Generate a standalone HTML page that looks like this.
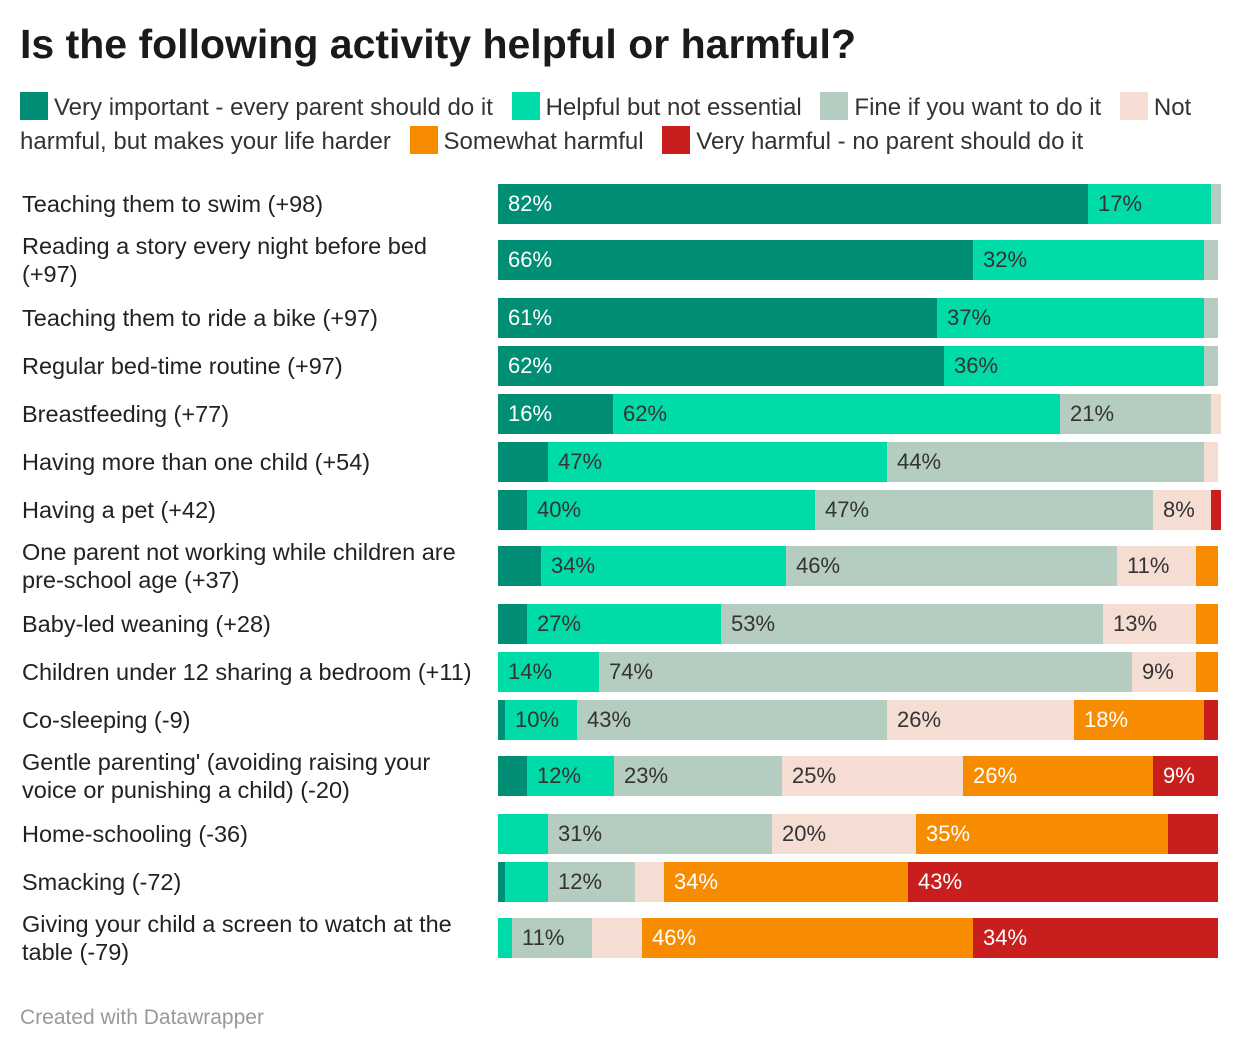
<!DOCTYPE html>
<html><head><meta charset="utf-8"><style>
body{margin:0;width:1240px;height:1054px;background:#fff;font-family:"Liberation Sans",sans-serif;position:relative;overflow:hidden;color:#222}
#title{position:absolute;left:20px;top:21px;font-size:41px;font-weight:bold;color:#1a1a1a;letter-spacing:0px}
#legend{position:absolute;left:20px;top:91px;width:1210px;font-size:24px;line-height:34px;color:#333}
.sw{display:inline-block;width:28px;height:28px;vertical-align:-5px;margin-right:6px}
.li{margin-right:12px}
.lab{position:absolute;left:22px;width:465px;font-size:23.5px;line-height:28px;color:#222}
.seg{position:absolute;height:40px;font-size:22px;line-height:40px;box-sizing:border-box;padding-left:10px;white-space:nowrap;overflow:hidden}
#foot{position:absolute;left:20px;top:1006px;font-size:21px;color:#999}
</style></head><body>
<div id="title">Is the following activity helpful or harmful?</div>
<div id="legend">
<span class="li"><span class="sw" style="background:#008f74"></span>Very important - every parent should do it</span>
<span class="li"><span class="sw" style="background:#00dca8"></span>Helpful but not essential</span>
<span class="li"><span class="sw" style="background:#b5cdc0"></span>Fine if you want to do it</span>
<span class="li"><span class="sw" style="background:#f5ddd4"></span>Not harmful, but makes your life harder</span>
<span class="li"><span class="sw" style="background:#f78c00"></span>Somewhat harmful</span>
<span class="li"><span class="sw" style="background:#c81e1e"></span>Very harmful - no parent should do it</span>
</div>
<div id="chart"></div>
<div id="foot">Created with Datawrapper</div>
<script>
const categories=["Teaching them to swim (+98)","Reading a story every night before bed (+97)","Teaching them to ride a bike (+97)","Regular bed-time routine (+97)","Breastfeeding (+77)","Having more than one child (+54)","Having a pet (+42)","One parent not working while children are pre-school age (+37)","Baby-led weaning (+28)","Children under 12 sharing a bedroom (+11)","Co-sleeping (-9)","Gentle parenting' (avoiding raising your voice or punishing a child) (-20)","Home-schooling (-36)","Smacking (-72)","Giving your child a screen to watch at the table (-79)"];
const veryImportant=[82,66,61,62,16,7,4,6,4,0,1,4,0,1,0];
const helpful=[17,32,37,36,62,47,40,34,27,14,10,12,7,6,2];
const fine=[1,2,2,2,21,44,47,46,53,74,43,23,31,12,11];
const lifeHarder=[0,0,0,0,1,2,8,11,13,9,26,25,20,4,7];
const somewhatHarmful=[0,0,0,0,0,0,0,3,3,3,18,26,35,34,46];
const veryHarmful=[0,0,0,0,0,0,1,0,0,0,2,9,7,43,34];
const twoLine=[false,true,false,false,false,false,false,true,false,false,false,true,false,false,true];
const series=[veryImportant,helpful,fine,lifeHarder,somewhatHarmful,veryHarmful];
const colors=["#008f74","#00dca8","#b5cdc0","#f5ddd4","#f78c00","#c81e1e"];
const textColors=["#fff","#333","#333","#333","#fff","#fff"];
const X0=498,W=720;
const chart=document.getElementById('chart');
let barTop=184;
categories.forEach((c,i)=>{
  if(i>0) barTop+=48+(twoLine[i]?8:0)+(twoLine[i-1]?10:0);
  const lab=document.createElement('div');
  lab.className='lab';
  
  
  lab.textContent=c;
  lab.style.top=(twoLine[i]?barTop-8:barTop+6)+'px';
  chart.appendChild(lab);
  const total=series.reduce((s,a)=>s+a[i],0);
  let acc=0;
  series.forEach((arr,k)=>{
    const v=arr[i];
    if(v<=0)return;
    const x1=X0+Math.round(acc/total*W);acc+=v;
    const x2=X0+Math.round(acc/total*W);
    const s=document.createElement('div');
    s.className='seg';
    
    
    s.style.left=x1+'px';s.style.top=barTop+'px';s.style.width=(x2-x1)+'px';
    s.style.background=colors[k];s.style.color=textColors[k];
    if(v>=8)s.textContent=v+'%';
    chart.appendChild(s);
  });
});
</script>
</body></html>
